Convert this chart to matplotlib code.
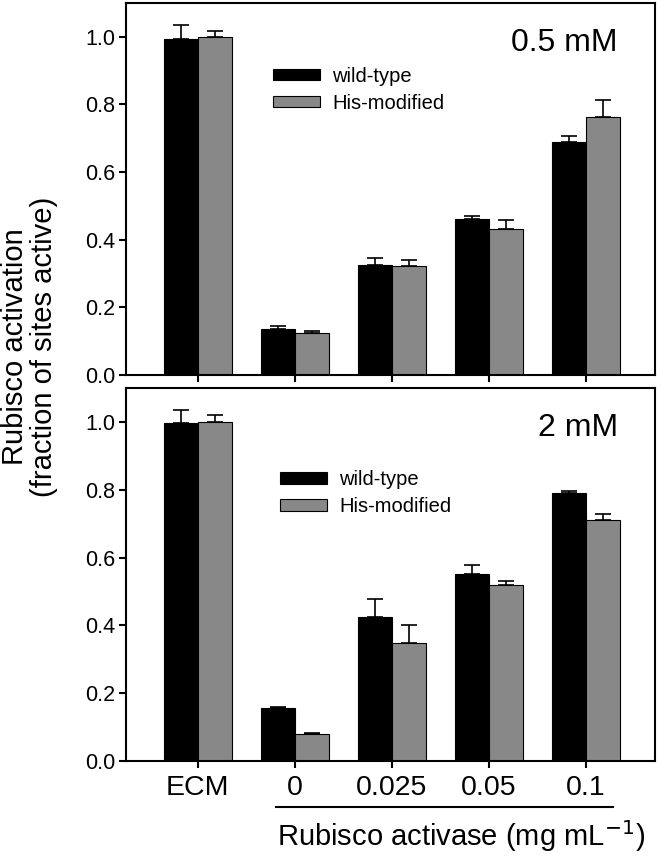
import numpy as np
import matplotlib
matplotlib.use("Agg")
import matplotlib.pyplot as plt
import matplotlib.transforms as mtransforms

plt.rcParams['font.family'] = ['Liberation Sans', 'DejaVu Sans']

categories = ["ECM", "0", "0.025", "0.05", "0.1"]

# 0.5 mM
wt_05 = [0.995, 0.135, 0.325, 0.460, 0.690]
wt_05_err = [0.040, 0.011, 0.020, 0.010, 0.017]
his_05 = [1.000, 0.125, 0.323, 0.431, 0.762]
his_05_err = [0.017, 0.004, 0.016, 0.027, 0.052]

# 2 mM
wt_2 = [0.996, 0.156, 0.425, 0.552, 0.790]
wt_2_err = [0.038, 0.003, 0.053, 0.026, 0.006]
his_2 = [1.000, 0.080, 0.347, 0.518, 0.711]
his_2_err = [0.019, 0.002, 0.053, 0.014, 0.017]

fig = plt.figure(figsize=(6.61, 8.56), dpi=100)
ax1 = fig.add_axes([0.1906, 0.5619, 0.8003, 0.4346])
ax2 = fig.add_axes([0.1906, 0.1110, 0.8003, 0.4357])

x = np.arange(len(categories))
w = 0.35
black = "#000000"
grey = "#888888"


def draw_panel(ax, wt, wt_err, his, his_err, label, leg_xy):
    ekw = dict(elinewidth=1.2, capsize=6, capthick=1.2, ecolor="black")
    b1 = ax.bar(x - w/2, wt, w, color=black, edgecolor="black", linewidth=0.8,
                yerr=[np.zeros(len(wt)), wt_err], error_kw=ekw, label="wild-type")
    b2 = ax.bar(x + w/2, his, w, color=grey, edgecolor="black", linewidth=0.8,
                yerr=[np.zeros(len(his)), his_err], error_kw=ekw, label="His-modified")
    ax.set_xlim(-0.74, 4.71)
    ax.set_ylim(0, 1.10)
    ax.set_yticks([0.0, 0.2, 0.4, 0.6, 0.8, 1.0])
    ax.set_yticklabels(["0.0", "0.2", "0.4", "0.6", "0.8", "1.0"])
    ax.set_xticks(x)
    ax.tick_params(axis="y", direction="out", length=5, width=1.5, labelsize=15.5, pad=3)
    ax.tick_params(axis="x", direction="out", length=5, width=1.5, labelsize=20.5, pad=5)
    for s in ax.spines.values():
        s.set_linewidth(1.5)
    ax.text(0.930, 0.892, label, transform=ax.transAxes, ha="right", va="center",
            fontsize=23)
    ax.legend(handles=[b1, b2], loc="upper left", bbox_to_anchor=leg_xy,
              frameon=False, fontsize=14.5, handlelength=2.34, handleheight=0.52,
              handletextpad=0.6, labelspacing=0.4, borderpad=0, borderaxespad=0)


draw_panel(ax1, wt_05, wt_05_err, his_05, his_05_err, "0.5 mM", (0.278, 0.829))
draw_panel(ax2, wt_2, wt_2_err, his_2, his_2_err, "2 mM", (0.291, 0.780))

ax1.set_xticklabels([])
ax2.set_xticklabels(categories)

# line grouping the activase concentrations
trans = mtransforms.blended_transform_factory(ax2.transData, ax2.transAxes)
ax2.plot([0.81, 4.28], [-0.123, -0.123], color="black", linewidth=1.5,
         transform=trans, clip_on=False)

fig.text(0.697, 1 - 846 / 856, "Rubisco activase (mg mL$^{-1}$)", ha="center",
         va="baseline", fontsize=21)
fig.text(0.045, 0.595, "Rubisco activation\n(fraction of sites active)",
         rotation=90, ha="center", va="center", fontsize=21, linespacing=1.05)

fig.savefig("out.png", dpi=100)
